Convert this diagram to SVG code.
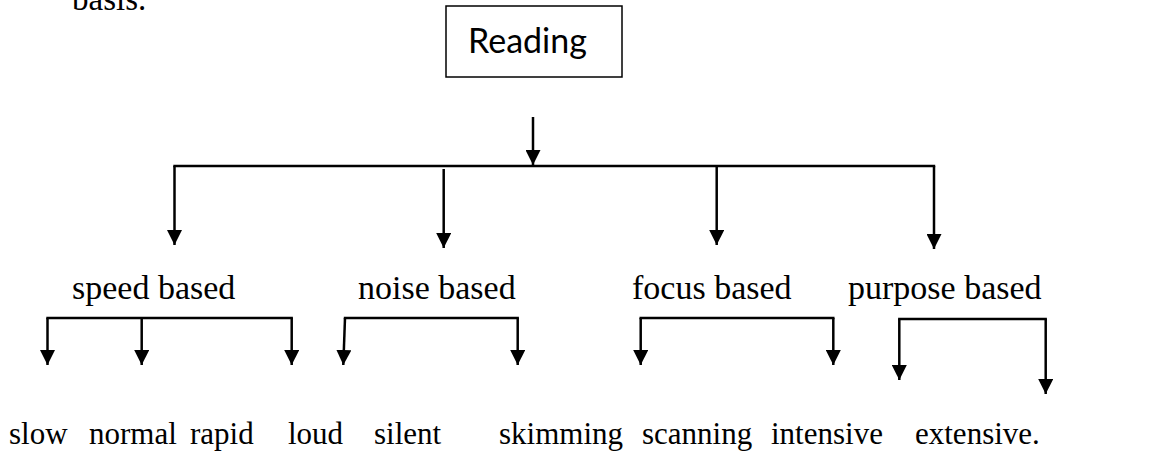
<svg xmlns="http://www.w3.org/2000/svg" width="1174" height="455" viewBox="0 0 1174 455">
  <defs>
    <style>
      .serif { font-family: "Liberation Serif", "Times New Roman", serif; fill: #000; }
      .cat { font-size: 34px; }
      .leaf { font-size: 31px; }
      .box { fill: #fff; stroke: #000; stroke-width: 1.5; }
      .title { font-family: Lato, "Open Sans", sans-serif; font-size: 34px; fill: #000; }
      .wire { stroke: #000; stroke-width: 2.5; fill: none; }
      .arrow { stroke: #000; stroke-width: 2.5; fill: none; marker-end: url(#head); }
    </style>
    <marker id="head" markerUnits="userSpaceOnUse" markerWidth="15" markerHeight="15" viewBox="0 0 15 15" refX="15" refY="7.5" orient="auto">
      <path d="M0,0 L15,7.5 L0,15 Z" fill="#000"/>
    </marker>
  </defs>

  <!-- tail of the preceding paragraph -->
  <text class="serif" x="72" y="10" font-size="33">basis.</text>

  <!-- root -->
  <g id="reading">
    <rect class="box" x="446" y="6" width="176" height="71"/>
    <text class="title" x="468" y="53">Reading</text>
  </g>

  <!-- category nodes -->
  <g id="speed-based"><text class="serif cat" x="72" y="299">speed based</text></g>
  <g id="noise-based"><text class="serif cat" x="358" y="299">noise based</text></g>
  <g id="focus-based"><text class="serif cat" x="632" y="299">focus based</text></g>
  <g id="purpose-based"><text class="serif cat" x="848" y="299">purpose based</text></g>

  <!-- leaf nodes -->
  <g id="slow"><text class="serif leaf" x="9" y="444">slow</text></g>
  <g id="normal"><text class="serif leaf" x="89" y="444">normal</text></g>
  <g id="rapid"><text class="serif leaf" x="190" y="444">rapid</text></g>
  <g id="loud"><text class="serif leaf" x="288" y="444">loud</text></g>
  <g id="silent"><text class="serif leaf" x="374" y="444">silent</text></g>
  <g id="skimming"><text class="serif leaf" x="499" y="444">skimming</text></g>
  <g id="scanning"><text class="serif leaf" x="642" y="444">scanning</text></g>
  <g id="intensive"><text class="serif leaf" x="771" y="444">intensive</text></g>
  <g id="extensive"><text class="serif leaf" x="915" y="444">extensive.</text></g>

  <!-- connectors -->
  <g id="connectors">
    <line class="arrow" x1="533" y1="117" x2="533" y2="165"/>
    <line class="wire" x1="173.3" y1="166" x2="935.2" y2="166"/>
    <line class="arrow" x1="174.5" y1="166" x2="174.5" y2="245"/>
    <line class="arrow" x1="443.7" y1="169" x2="443.7" y2="248"/>
    <line class="arrow" x1="716.7" y1="166" x2="716.7" y2="245"/>
    <line class="arrow" x1="934" y1="166" x2="934" y2="249"/>

    <!-- speed based -->
    <line class="wire" x1="46.3" y1="318" x2="292.9" y2="318"/>
    <line class="arrow" x1="47.5" y1="318" x2="47.5" y2="365"/>
    <line class="arrow" x1="141.7" y1="318" x2="141.7" y2="365"/>
    <line class="arrow" x1="291.7" y1="318" x2="291.7" y2="365"/>

    <!-- noise based -->
    <line class="wire" x1="343.8" y1="318" x2="518.9" y2="318"/>
    <line class="arrow" x1="345" y1="318" x2="343.3" y2="365"/>
    <line class="arrow" x1="517.7" y1="318" x2="517.7" y2="365"/>

    <!-- focus based -->
    <line class="wire" x1="639.5" y1="318" x2="834.5" y2="318"/>
    <line class="arrow" x1="640.7" y1="318" x2="640.7" y2="365"/>
    <line class="arrow" x1="833.3" y1="318" x2="833.3" y2="365"/>

    <!-- purpose based -->
    <line class="wire" x1="898.1" y1="319" x2="1046.9" y2="319"/>
    <line class="arrow" x1="899.3" y1="319" x2="899.3" y2="380"/>
    <line class="arrow" x1="1045.7" y1="319" x2="1045.7" y2="394"/>
  </g>
</svg>
